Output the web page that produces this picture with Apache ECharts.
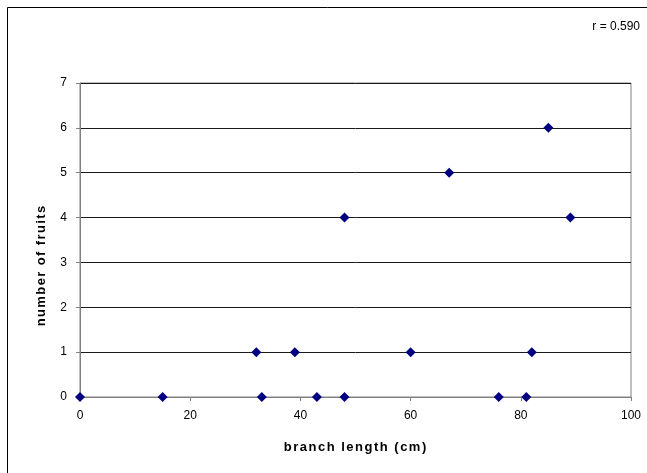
<!DOCTYPE html>
<html>
<head>
<meta charset="utf-8">
<script src="https://cdn.jsdelivr.net/npm/echarts@6/dist/echarts.min.js"></script>
<style>
  html, body { margin: 0; padding: 0; background: #fff; }
  #chart { width: 647px; height: 473px; }
</style>
</head>
<body>
<div id="chart"></div>
<script>
// Branch length (cm) and fruit count for each sampled branch
const branchLength = [0, 15, 32, 33, 39, 43, 48, 48, 60, 67, 76, 81, 82, 85, 89];
const fruitCount   = [0, 0, 1, 0, 1, 0, 0, 4, 1, 5, 0, 0, 1, 6, 4];
const xTicks = [0, 20, 40, 60, 80, 100];
const yTicks = [0, 1, 2, 3, 4, 5, 6, 7];
const xTitle = 'branch length (cm)';
const yTitle = 'number of fruits';
const correlationLabel = 'r = 0.590';

const points = branchLength.map((x, i) => [x, fruitCount[i]]);

const fontFamily = '"Liberation Sans", Arial, sans-serif';

// Lay out a bold title one character at a time so it can carry letter spacing,
// centred on the group's origin.
function spacedTitle(str, fontSize, spacing) {
  const ctx = document.createElement('canvas').getContext('2d');
  ctx.font = 'bold ' + fontSize + 'px ' + fontFamily;
  const items = [];
  let x = 0;
  for (const ch of str) {
    items.push({ ch: ch, x: x });
    x += ctx.measureText(ch).width + spacing;
  }
  const total = x - spacing;
  return items.map(it => ({
    type: 'text',
    x: it.x - total / 2,
    y: 0,
    style: {
      text: it.ch,
      fontFamily: fontFamily,
      fontSize: fontSize,
      fontWeight: 'bold',
      fill: '#000',
      align: 'left',
      verticalAlign: 'middle'
    },
    silent: true
  }));
}

const chart = echarts.init(document.getElementById('chart'), null, { renderer: 'canvas' });

chart.setOption({
  animation: false,
  backgroundColor: '#fff',
  grid: {
    left: 80, top: 83, right: 16, bottom: 76,
    show: true, borderColor: '#808080', borderWidth: 1, backgroundColor: '#fff'
  },
  xAxis: {
    type: 'value',
    min: xTicks[0], max: xTicks[xTicks.length - 1], interval: 20,
    axisLine: { show: true, onZero: false, lineStyle: { color: '#808080', width: 1 } },
    axisTick: { show: true, inside: false, length: 4, lineStyle: { color: '#808080' } },
    axisLabel: { fontFamily: fontFamily, fontSize: 12, color: '#000', margin: 13 },
    splitLine: { show: false }
  },
  yAxis: {
    type: 'value',
    min: yTicks[0], max: yTicks[yTicks.length - 1], interval: 1,
    axisLine: { show: true, onZero: false, lineStyle: { color: '#808080', width: 1 } },
    axisTick: { show: true, inside: false, length: 4, lineStyle: { color: '#808080' } },
    axisLabel: { fontFamily: fontFamily, fontSize: 12, color: '#000', margin: 13 },
    splitLine: { show: true, lineStyle: { color: '#1a1a1a', width: 1 } }
  },
  graphic: [
    {
      type: 'rect',
      shape: { x: 7.5, y: 7.5, width: 700, height: 600 },
      style: { fill: null, stroke: '#000', lineWidth: 1 },
      silent: true, z: -1
    },
    {
      type: 'text',
      right: 7, top: 21,
      style: { text: correlationLabel, fontFamily: fontFamily, fontSize: 12, fill: '#000' }
    },
    {
      type: 'group',
      x: 355, y: 447,
      children: spacedTitle(xTitle, 13, 1.5)
    },
    {
      type: 'group',
      x: 41, y: 266,
      rotation: Math.PI / 2,
      children: spacedTitle(yTitle, 13, 1.4)
    }
  ],
  series: [{
    type: 'scatter',
    data: points,
    symbol: 'diamond',
    symbolSize: 10,
    itemStyle: { color: '#000080', opacity: 1 },
    clip: false,
    z: 5
  }]
});
</script>
</body>
</html>
